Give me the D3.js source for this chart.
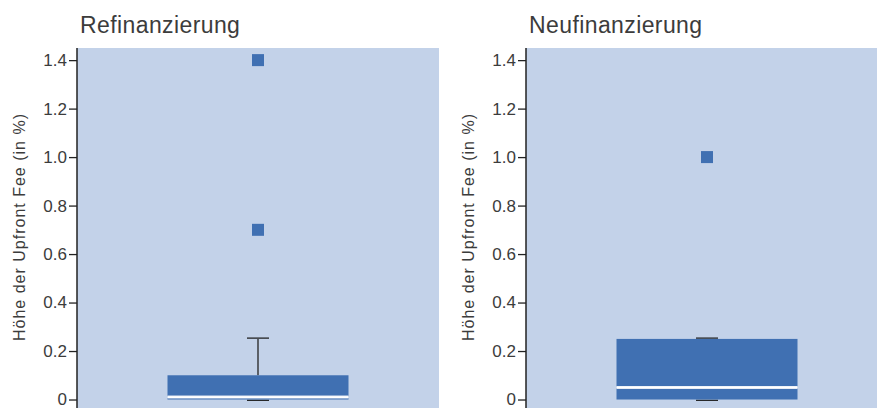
<!DOCTYPE html>
<html>
<head>
<meta charset="utf-8">
<script src="https://cdn.jsdelivr.net/npm/d3@7"></script>
<style>
  html, body { margin: 0; padding: 0; background: #fff; }
  svg { display: block; }
  text { font-family: "Liberation Sans", Arial, sans-serif; fill: #3c3c3c; }
</style>
</head>
<body>
<svg id="chart" width="877" height="408"></svg>
<script>
// Box-plot summaries (upfront fee, in %)
const panels = ["Refinanzierung", "Neufinanzierung"];
const lowerWhisker = [0, 0];
const q1 = [0, 0];
const median = [0.01, 0.05];
const q3 = [0.1, 0.25];
const upperWhisker = [0.25, 0.25];
const outliers = [[0.7, 1.4], [1.0]];
const yTicks = [0, 0.2, 0.4, 0.6, 0.8, 1.0, 1.2, 1.4];
const yLabel = "Höhe der Upfront Fee (in %)";

const svg = d3.select("#chart");
const panelLeft = [77, 526];
const panelWidth = 362;
const plotTop = 48, plotBottom = 408;

const y = d3.scaleLinear().domain([-0.035, 1.45]).range([plotBottom, plotTop]);

panels.forEach((name, i) => {
  const g = svg.append("g").attr("transform", `translate(${panelLeft[i]},0)`);
  const x = d3.scaleBand().domain([name]).range([0, panelWidth])
    .paddingInner(0).paddingOuter(0.5);

  g.append("rect")
    .attr("x", 0).attr("y", plotTop)
    .attr("width", panelWidth).attr("height", plotBottom - plotTop)
    .attr("fill", "#c3d2e9");

  const cx = x(name) + x.bandwidth() / 2;
  const capHalf = 11;

  // whisker stem and caps (drawn under the box)
  g.append("line")
    .attr("x1", cx).attr("x2", cx)
    .attr("y1", y(q3[i])).attr("y2", y(upperWhisker[i]))
    .attr("stroke", "#222").attr("stroke-width", 1.3);
  [[upperWhisker[i], -0.8], [lowerWhisker[i], 0.8]].forEach(([v, off]) => {
    g.append("line")
      .attr("x1", cx - capHalf).attr("x2", cx + capHalf)
      .attr("y1", y(v) + off).attr("y2", y(v) + off)
      .attr("stroke", "#222").attr("stroke-width", 1.3);
  });

  // interquartile box
  g.append("rect")
    .attr("x", x(name)).attr("y", y(q3[i]))
    .attr("width", x.bandwidth()).attr("height", y(q1[i]) - y(q3[i]))
    .attr("fill", "#4070b2");

  // median
  g.append("line")
    .attr("x1", x(name)).attr("x2", x(name) + x.bandwidth())
    .attr("y1", y(median[i])).attr("y2", y(median[i]))
    .attr("stroke", "#dfe6f2").attr("stroke-width", 3);
  g.append("line")
    .attr("x1", x(name)).attr("x2", x(name) + x.bandwidth())
    .attr("y1", y(median[i])).attr("y2", y(median[i]))
    .attr("stroke", "#ffffff").attr("stroke-width", 1.8);

  // outliers
  const s = 12;
  g.selectAll("rect.out").data(outliers[i]).enter().append("rect")
    .attr("class", "out")
    .attr("x", cx - s / 2).attr("y", d => y(d) - s / 2)
    .attr("width", s).attr("height", s)
    .attr("fill", "#4070b2");

  // y axis
  const axis = d3.axisLeft(y).tickValues(yTicks).tickSize(8).tickPadding(2)
    .tickFormat(d => d === 0 ? "0" : d3.format(".1f")(d));
  const ag = g.append("g").call(axis);
  ag.select(".domain").remove();
  ag.selectAll(".tick line").attr("stroke", "#222").attr("stroke-width", 1.3);
  ag.selectAll(".tick text")
    .style("font-family", "'Liberation Sans', Arial, sans-serif")
    .style("font-size", "17px").attr("fill", "#3c3c3c");
  g.append("line")
    .attr("x1", 0).attr("x2", 0).attr("y1", plotTop).attr("y2", plotBottom)
    .attr("stroke", "#222").attr("stroke-width", 1.5);

  // axis title
  g.append("text")
    .attr("transform", `translate(-58,227) rotate(-90)`)
    .attr("text-anchor", "middle")
    .attr("dominant-baseline", "central")
    .style("font-size", "16px")
    .style("letter-spacing", "1px")
    .text(yLabel);

  // panel title
  g.append("text")
    .attr("x", 3).attr("y", 33)
    .style("font-size", "23px")
    .style("letter-spacing", "0.4px")
    .text(name);
});
</script>
</body>
</html>
